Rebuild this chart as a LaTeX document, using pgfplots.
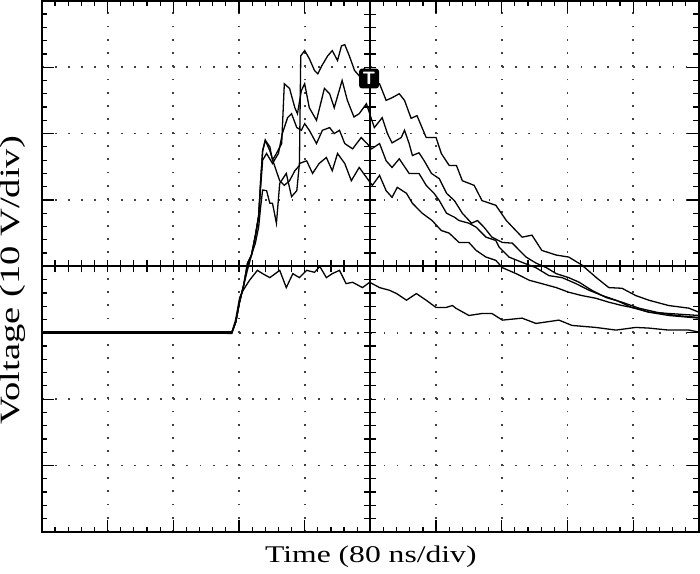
\documentclass[border=0pt]{standalone}
\usepackage{fontspec}
\setmainfont{Liberation Serif}
\usepackage{pgfplots}
\pgfplotsset{compat=1.18}
\begin{document}
\begin{tikzpicture}
\begin{axis}[
  scale only axis, width=329pt, height=266pt,
  xmin=0, xmax=10, ymin=-4, ymax=4,
  xtick={0,...,10}, ytick={-4,...,4},
  minor tick num=4,
  xticklabels={}, yticklabels={},
  tick align=inside, tick pos=both,
  major tick length=6pt, minor tick length=2.7pt,
  every tick/.style={black, line width=0.6pt},
  axis line style={line width=1pt},
  grid=major,
  x grid style={black!75, line width=0.9pt, dash pattern=on 0.9pt off 5.75pt},
  y grid style={black!75, line width=0.9pt, dash pattern=on 0.9pt off 5.68pt},
  clip=true,
]
% centre cross of the screen
\draw[line width=0.9pt] (axis cs:0,0) -- (axis cs:10,0);
\draw[line width=0.9pt] (axis cs:5,-4) -- (axis cs:5,4);
\pgfplotsinvokeforeach{0.2,0.4,...,9.9}{\draw[line width=0.6pt] (axis cs:#1,-0.09) -- (axis cs:#1,0.09);}
\pgfplotsinvokeforeach{-3.8,-3.6,...,3.9}{\draw[line width=0.6pt] (axis cs:4.91,#1) -- (axis cs:5.09,#1);}

% traces (div units: x in 80 ns/div, y in 10 V/div)
\addplot[black, line width=0.65pt] coordinates {
(0,-1.00) (1,-1.00) (2,-1.00) (2.89,-1.01) (2.95,-0.84) (3.01,-0.53) (3.07,-0.29) (3.13,0.05) (3.19,0.17) (3.25,0.47) (3.30,0.77) (3.33,1.29) (3.36,1.74) (3.40,1.90) (3.47,1.74) (3.54,1.52) (3.62,1.29) (3.69,1.22) (3.77,1.29) (3.85,1.44) (3.92,1.52) (3.94,3.17) (4.00,3.25) (4.07,3.13) (4.15,2.95) (4.20,2.90) (4.26,3.02) (4.35,3.17) (4.42,3.25) (4.50,3.10) (4.56,3.32) (4.61,3.34) (4.68,3.17) (4.76,2.95) (4.83,2.87) (4.91,2.98) (4.97,2.80) (5.14,2.75) (5.24,2.50) (5.33,2.54) (5.44,2.60) (5.52,2.50) (5.62,2.23) (5.71,2.27) (5.85,1.94) (6.00,1.94) (6.08,1.70) (6.20,1.52) (6.31,1.52) (6.40,1.29) (6.58,1.22) (6.70,0.99) (6.91,0.92) (7.07,0.69) (7.31,0.44) (7.46,0.47) (7.61,0.24) (7.83,0.17) (8.02,0.14) (8.22,0.02) (8.44,-0.17) (8.63,-0.32) (8.83,-0.33) (9.04,-0.44) (9.24,-0.51) (9.54,-0.59) (9.85,-0.63) (10.00,-0.69)
};
\addplot[black, line width=0.65pt] coordinates {
(0,-1.00) (2.89,-1.00) (2.95,-0.84) (3.01,-0.53) (3.07,-0.29) (3.13,0.05) (3.19,0.17) (3.25,0.47) (3.30,0.77) (3.33,1.29) (3.36,1.74) (3.40,1.90) (3.47,1.80) (3.51,1.60) (3.57,1.70) (3.65,1.85) (3.69,2.75) (3.77,2.68) (3.85,2.39) (3.89,2.30) (3.95,2.65) (4.00,2.75) (4.07,2.39) (4.18,2.20) (4.30,2.68) (4.38,2.60) (4.45,2.39) (4.57,2.80) (4.65,2.50) (4.75,2.25) (4.83,2.30) (4.94,2.45) (5.06,2.09) (5.18,2.24) (5.26,2.00) (5.33,1.86) (5.47,1.94) (5.52,2.05) (5.59,1.85) (5.64,1.67) (5.74,1.71) (5.82,1.59) (5.93,1.40) (6.05,1.32) (6.16,1.10) (6.28,0.99) (6.40,0.80) (6.54,0.65) (6.63,0.69) (6.73,0.59) (6.85,0.44) (7.01,0.36) (7.16,0.35) (7.37,0.14) (7.52,0.05) (7.68,-0.02) (7.83,-0.11) (8.02,-0.17) (8.18,-0.24) (8.37,-0.36) (8.59,-0.47) (8.83,-0.54) (9.09,-0.63) (9.35,-0.69) (9.65,-0.74) (10.00,-0.77)
};
\addplot[black, line width=0.65pt] coordinates {
(0,-1.00) (2.89,-1.00) (2.95,-0.84) (3.01,-0.53) (3.07,-0.29) (3.13,0.00) (3.19,0.17) (3.25,0.45) (3.30,0.75) (3.33,1.20) (3.36,1.60) (3.42,1.70) (3.51,1.55) (3.60,1.70) (3.66,2.00) (3.74,2.24) (3.80,2.30) (3.88,2.09) (3.95,2.05) (4.00,2.15) (4.07,2.05) (4.18,1.85) (4.27,2.05) (4.38,2.09) (4.45,2.00) (4.53,2.05) (4.61,1.85) (4.73,1.77) (4.86,1.94) (4.95,1.85) (5.02,1.77) (5.14,1.85) (5.24,1.59) (5.33,1.49) (5.44,1.62) (5.59,1.40) (5.74,1.40) (5.85,1.22) (5.97,1.10) (6.05,0.99) (6.16,0.80) (6.28,0.74) (6.35,0.69) (6.50,0.65) (6.61,0.59) (6.76,0.44) (6.91,0.39) (6.96,0.29) (7.11,0.14) (7.31,0.06) (7.52,-0.02) (7.72,-0.14) (7.92,-0.17) (8.13,-0.26) (8.33,-0.36) (8.53,-0.44) (8.74,-0.51) (8.98,-0.62) (9.24,-0.69) (9.54,-0.74) (10.00,-0.78)
};
\addplot[black, line width=0.65pt] coordinates {
(0,-1.00) (2.89,-1.00) (2.95,-0.84) (3.01,-0.53) (3.07,-0.29) (3.13,-0.05) (3.19,0.17) (3.25,0.35) (3.30,0.60) (3.33,0.90) (3.36,1.15) (3.42,1.14) (3.47,0.95) (3.51,0.95) (3.57,0.65) (3.62,1.25) (3.72,1.40) (3.80,1.05) (3.88,1.14) (3.92,1.55) (4.03,1.59) (4.12,1.40) (4.22,1.55) (4.33,1.64) (4.42,1.44) (4.50,1.70) (4.61,1.55) (4.71,1.29) (4.80,1.44) (4.83,1.49) (4.94,1.34) (5.03,1.22) (5.14,1.37) (5.24,1.14) (5.33,1.04) (5.41,1.19) (5.55,1.10) (5.64,0.95) (5.79,0.80) (5.94,0.69) (6.08,0.54) (6.20,0.50) (6.35,0.36) (6.50,0.36) (6.61,0.24) (6.76,0.14) (6.91,0.09) (7.01,-0.02) (7.22,-0.11) (7.42,-0.21) (7.61,-0.26) (7.83,-0.32) (8.02,-0.39) (8.22,-0.44) (8.43,-0.48) (8.63,-0.54) (8.83,-0.59) (9.04,-0.63) (9.24,-0.69) (9.54,-0.71) (10.00,-0.74)
};
\addplot[black, line width=0.65pt] coordinates {
(0,-1.00) (2.89,-1.00) (2.95,-0.80) (3.01,-0.47) (3.07,-0.35) (3.16,-0.21) (3.28,-0.06) (3.36,-0.11) (3.47,-0.17) (3.62,-0.06) (3.72,-0.32) (3.82,-0.11) (3.92,-0.17) (4.03,-0.06) (4.15,-0.09) (4.23,0.00) (4.33,-0.17) (4.42,-0.11) (4.53,-0.06) (4.63,-0.26) (4.73,-0.24) (4.88,-0.32) (4.99,-0.24) (5.14,-0.32) (5.29,-0.36) (5.40,-0.41) (5.55,-0.51) (5.70,-0.41) (5.85,-0.51) (6.00,-0.62) (6.15,-0.62) (6.25,-0.59) (6.30,-0.63) (6.50,-0.74) (6.70,-0.71) (6.85,-0.71) (7.01,-0.81) (7.31,-0.78) (7.52,-0.86) (7.87,-0.81) (8.07,-0.89) (8.43,-0.92) (8.74,-0.96) (9.04,-0.92) (9.24,-0.93) (9.54,-0.96) (9.85,-0.96) (10.00,-0.99)
};
% baseline thickness (all five traces overlap here)
\addplot[black, line width=1.4pt] coordinates {(0,-1.00) (2.89,-1.00)};
% trigger marker
\node[fill=black, rounded corners=1.5pt, minimum size=10pt, inner sep=0pt, text=white, font=\sffamily\bfseries\small] at (axis cs:4.98,2.83) {T};
\end{axis}
\node[font=\fontsize{12}{14}\selectfont, inner sep=0pt] at (164.75pt,-12.3pt) {\scalebox{1.32}[1]{Time (80 ns/div)}};
\node[font=\fontsize{14}{16}\selectfont, rotate=90, inner sep=0pt] at (-14.75pt,126pt) {\scalebox{1.38}[1]{Voltage (10 V/div)}};
\pgfresetboundingbox
\path (-21pt,-21pt) rectangle (329.6pt,266.4pt);
\end{tikzpicture}
\end{document}
